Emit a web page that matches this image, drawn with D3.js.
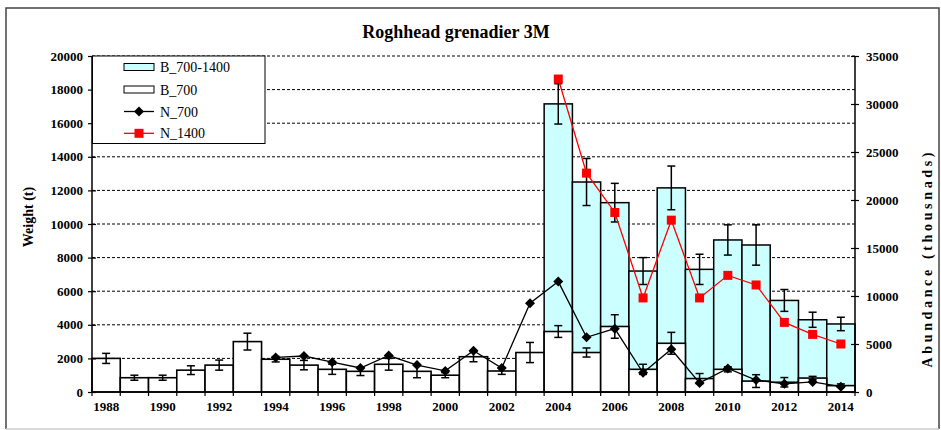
<!DOCTYPE html>
<html><head><meta charset="utf-8">
<script src="https://cdn.jsdelivr.net/npm/d3@7/dist/d3.min.js"></script>
<style>
html,body{margin:0;padding:0;background:#fff;}
svg{display:block;}
text{font-family:"Liberation Serif","Times New Roman",serif;}
</style></head>
<body>
<svg id="chart" width="941" height="430"></svg>
<script>
const years = ["1988","1989","1990","1991","1992","1993","1994","1995","1996","1997","1998","1999","2000","2001","2002","2003","2004","2005","2006","2007","2008","2009","2010","2011","2012","2013","2014"];
const b700 = [2000,850,850,1300,1600,3000,1950,1600,1350,1230,1650,1230,1000,2100,1250,2350,3600,2350,3900,1350,2900,800,1350,650,580,830,380];
const b700Err = [300,150,150,260,300,500,160,280,300,250,350,380,150,300,200,600,350,270,700,300,650,300,150,380,280,100,100];
const b700_1400 = [null,null,null,null,null,null,null,null,null,null,null,null,null,null,null,null,17150,12500,11270,7200,12150,7300,9050,8750,5450,4300,4050];
const b700_1400Err = [null,null,null,null,null,null,null,null,null,null,null,null,null,null,null,null,1200,1400,1150,800,1300,900,900,1200,650,450,400];
const n700 = [null,null,null,null,null,null,3600,3750,3100,2500,3800,2800,2200,4300,2500,9250,11500,5700,6600,2000,4450,950,2450,1250,850,1050,550];
const n1400 = [null,null,null,null,null,null,null,null,null,null,null,null,null,null,null,null,32600,22800,18700,9800,17900,9800,12150,11150,7250,6000,5000];
const leftTicks = [0,2000,4000,6000,8000,10000,12000,14000,16000,18000,20000];
const rightTicks = [0,5000,10000,15000,20000,25000,30000,35000];
const labelYears = ["1988","1990","1992","1994","1996","1998","2000","2002","2004","2006","2008","2010","2012","2014"];
const legendItems = ["B_700-1400","B_700","N_700","N_1400"];

const svg = d3.select("#chart");
const L = 92, R = 855, T = 56, B = 392;
const x = d3.scaleBand().domain(years).range([L, R]).padding(0);
const yL = d3.scaleLinear().domain([0, 20000]).range([B, T]);
const yR = d3.scaleLinear().domain([0, 35000]).range([B, T]);
const cx = d => x(d) + x.bandwidth()/2;

// outer frame
svg.append("path").attr("d", `M6,429 L6,8 L939,8 L939,429`).attr("fill","none").attr("stroke","#444").attr("stroke-width",1.5);
svg.append("line").attr("x1",6).attr("x2",939).attr("y1",429).attr("y2",429).attr("stroke","#ccc").attr("stroke-width",1.5);

// title
svg.append("text").attr("x", 456).attr("y", 38).attr("text-anchor","middle")
  .attr("font-size", 18).attr("font-weight","bold").text("Roghhead grenadier 3M");

// gridlines
svg.append("g").selectAll("line").data(leftTicks.filter(t => t > 0)).join("line")
  .attr("x1", L).attr("x2", R).attr("y1", d => yL(d)).attr("y2", d => yL(d))
  .attr("stroke", "#000").attr("stroke-width", 1).attr("stroke-dasharray", "3,2");

const idx = years.map((y,i) => i);

// cyan bars
svg.append("g").selectAll("rect").data(idx.filter(i => b700_1400[i] != null)).join("rect")
  .attr("x", i => x(years[i])).attr("width", x.bandwidth())
  .attr("y", i => yL(b700_1400[i])).attr("height", i => B - yL(b700_1400[i]))
  .attr("fill", "#CCFFFF").attr("stroke", "#000").attr("stroke-width", 1.5);

function errBars(vals, errs) {
  const g = svg.append("g").attr("stroke","#000").attr("stroke-width",1.5);
  idx.filter(i => vals[i] != null).forEach(i => {
    const c = cx(years[i]);
    const y1 = yL(vals[i] + errs[i]), y2 = yL(vals[i] - errs[i]);
    g.append("line").attr("x1",c).attr("x2",c).attr("y1",y1).attr("y2",y2);
    g.append("line").attr("x1",c-4).attr("x2",c+4).attr("y1",y1).attr("y2",y1);
    g.append("line").attr("x1",c-4).attr("x2",c+4).attr("y1",y2).attr("y2",y2);
  });
}

// white bars
svg.append("g").selectAll("rect").data(idx).join("rect")
  .attr("x", i => x(years[i])).attr("width", x.bandwidth())
  .attr("y", i => yL(b700[i])).attr("height", i => B - yL(b700[i]))
  .attr("fill", "#fff").attr("stroke", "#000").attr("stroke-width", 1.6);

errBars(b700_1400, b700_1400Err);
errBars(b700, b700Err);

// N_700 line
const line700 = d3.line().defined(i => n700[i] != null).x(i => cx(years[i])).y(i => yR(n700[i]));
svg.append("path").datum(idx).attr("d", line700).attr("fill","none").attr("stroke","#000").attr("stroke-width",1.3);
svg.append("g").selectAll("path").data(idx.filter(i => n700[i] != null)).join("path")
  .attr("transform", i => `translate(${cx(years[i])},${yR(n700[i])})`)
  .attr("d", "M0,-5 L5,0 L0,5 L-5,0 Z").attr("fill","#000");

// N_1400 line
const line1400 = d3.line().defined(i => n1400[i] != null).x(i => cx(years[i])).y(i => yR(n1400[i]));
svg.append("path").datum(idx).attr("d", line1400).attr("fill","none").attr("stroke","#FF0000").attr("stroke-width",1.3);
svg.append("g").selectAll("rect").data(idx.filter(i => n1400[i] != null)).join("rect")
  .attr("x", i => cx(years[i]) - 4.5).attr("y", i => yR(n1400[i]) - 4.5)
  .attr("width", 9).attr("height", 9).attr("fill","#FF0000");

// axes
const axL = d3.axisLeft(yL).tickValues(leftTicks).tickSize(4).tickFormat(d3.format("d"));
const gL = svg.append("g").attr("transform", `translate(${L},0)`).call(axL);
const axR = d3.axisRight(yR).tickValues(rightTicks).tickSize(4).tickFormat(d3.format("d"));
const gR = svg.append("g").attr("transform", `translate(${R},0)`).call(axR);
[gL, gR].forEach(g => {
  g.select(".domain").attr("stroke","#000").attr("stroke-width",1.5).attr("d", `M0,${T}V${B}`);
  g.selectAll(".tick line").attr("stroke","#000").attr("stroke-width",1.2).attr("x1", -4).attr("x2", 4);
  g.selectAll(".tick text").attr("font-size", 13).attr("font-weight","bold")
    .attr("font-family", '"Liberation Serif","Times New Roman",serif').attr("fill","#000");
});
gL.selectAll(".tick text").attr("x", -9);
gR.selectAll(".tick text").attr("x", 11);

// x axis
const gX = svg.append("g");
gX.append("line").attr("x1", L).attr("x2", R).attr("y1", B).attr("y2", B).attr("stroke","#000").attr("stroke-width",1.5);
const bounds = years.map(y => x(y)).concat([R]);
gX.selectAll("line.tk").data(bounds).join("line").attr("class","tk")
  .attr("x1", d => d).attr("x2", d => d).attr("y1", B).attr("y2", B + 4)
  .attr("stroke","#000").attr("stroke-width",1.2);
gX.selectAll("text").data(labelYears).join("text")
  .attr("x", d => cx(d)).attr("y", 411).attr("text-anchor","middle")
  .attr("font-size", 13).attr("font-weight","bold").text(d => d);

// axis titles
svg.append("text").attr("transform","translate(33,217) rotate(-90)").attr("text-anchor","middle")
  .attr("font-size", 14).attr("font-weight","bold").text("Weight (t)");
svg.append("text").attr("transform","translate(932,260) rotate(-90)").attr("text-anchor","middle")
  .attr("font-size", 14).attr("font-weight","bold")
  .attr("textLength", 215).attr("lengthAdjust","spacing").text("Abundance  (thousnads)");

// legend
const lg = svg.append("g");
lg.append("rect").attr("x", 92.5).attr("y", 56).attr("width", 172.5).attr("height", 87.5)
  .attr("fill","#fff").attr("stroke","#000").attr("stroke-width",1);
const rowY = [67, 89.5, 111.5, 133.3];
lg.append("rect").attr("x",124).attr("y",rowY[0]-3.5).attr("width",30).attr("height",7).attr("fill","#CCFFFF").attr("stroke","#000");
lg.append("rect").attr("x",124).attr("y",rowY[1]-3.5).attr("width",30).attr("height",7).attr("fill","#fff").attr("stroke","#000");
lg.append("line").attr("x1",124).attr("x2",154).attr("y1",rowY[2]).attr("y2",rowY[2]).attr("stroke","#000").attr("stroke-width",1.3);
lg.append("path").attr("transform",`translate(139,${rowY[2]})`).attr("d","M0,-5 L5,0 L0,5 L-5,0 Z").attr("fill","#000");
lg.append("line").attr("x1",124).attr("x2",154).attr("y1",rowY[3]).attr("y2",rowY[3]).attr("stroke","#FF0000").attr("stroke-width",1.3);
lg.append("rect").attr("x",134.5).attr("y",rowY[3]-4.5).attr("width",9).attr("height",9).attr("fill","#FF0000");
lg.selectAll("text").data(legendItems).join("text")
  .attr("x", 160).attr("y", (d,i) => rowY[i] + 5).attr("font-size", 14).text(d => d);
</script>
</body></html>
